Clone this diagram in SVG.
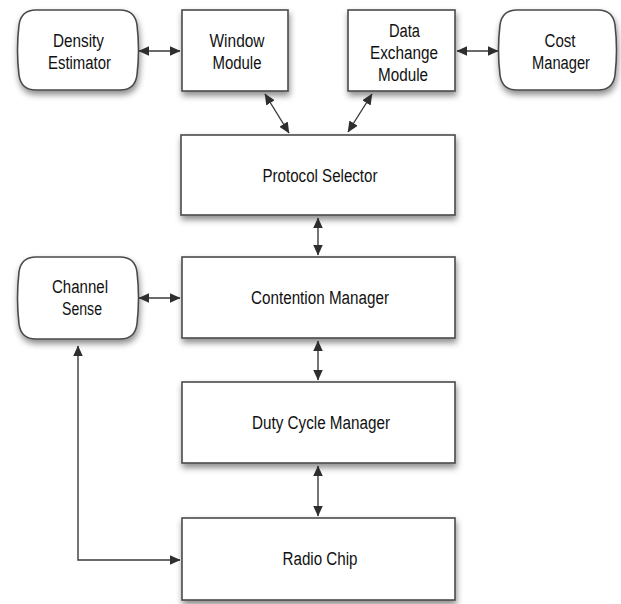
<svg xmlns="http://www.w3.org/2000/svg" width="621" height="604" viewBox="0 0 621 604">
<defs>
<filter id="sh" x="-20%" y="-20%" width="140%" height="150%">
<feDropShadow dx="1" dy="4" stdDeviation="3" flood-color="#000" flood-opacity="0.45"/>
</filter>
<marker id="ah" viewBox="0 0 10 10" refX="9.5" refY="5" markerWidth="11" markerHeight="11" markerUnits="userSpaceOnUse" orient="auto-start-reverse">
<path d="M0,0.5 L10,5 L0,9.5 Z" fill="#2e2e2e"/>
</marker>
</defs>
<style>
.box{fill:#fff;stroke:#4a4a4a;stroke-width:1.6;filter:url(#sh)}
.t{font-family:"Liberation Sans",Arial,sans-serif;font-size:18px;fill:#111;text-anchor:middle}
.c{fill:none;stroke:#3a3a3a;stroke-width:1.4;marker-start:url(#ah);marker-end:url(#ah)}
</style>
<rect width="621" height="604" fill="#fff"/>
<g id="density-estimator">
<path class="box" d="M36,10 H120 Q135,10 137,25 Q140,50 137,75 Q135,90 120,90 H36 Q21,90 19,75 Q16,50 19,25 Q21,10 36,10 Z"/>
<text class="t" x="78.5" y="47" textLength="51" lengthAdjust="spacingAndGlyphs">Density</text>
<text class="t" x="79.5" y="69" textLength="63" lengthAdjust="spacingAndGlyphs">Estimator</text>
</g>
<g id="window-module">
<rect class="box" x="182" y="10" width="106" height="81"/>
<text class="t" x="237" y="47" textLength="55" lengthAdjust="spacingAndGlyphs">Window</text>
<text class="t" x="237" y="69" textLength="49" lengthAdjust="spacingAndGlyphs">Module</text>
</g>
<g id="data-exchange-module">
<rect class="box" x="348" y="10" width="107" height="81"/>
<text class="t" x="404.5" y="37" textLength="31" lengthAdjust="spacingAndGlyphs">Data</text>
<text class="t" x="404" y="59" textLength="68" lengthAdjust="spacingAndGlyphs">Exchange</text>
<text class="t" x="403" y="81" textLength="50" lengthAdjust="spacingAndGlyphs">Module</text>
</g>
<g id="cost-manager">
<path class="box" d="M517,10 H598 Q613,10 615,25 Q618,50 615,75 Q613,90 598,90 H517 Q502,90 500,75 Q497,50 500,25 Q502,10 517,10 Z"/>
<text class="t" x="560" y="47" textLength="31" lengthAdjust="spacingAndGlyphs">Cost</text>
<text class="t" x="561" y="69" textLength="58" lengthAdjust="spacingAndGlyphs">Manager</text>
</g>
<g id="protocol-selector">
<rect class="box" x="181" y="135" width="274" height="80"/>
<text class="t" x="320" y="182" textLength="115" lengthAdjust="spacingAndGlyphs">Protocol Selector</text>
</g>
<g id="channel-sense">
<path class="box" d="M36,257 H120 Q135,257 137,272 Q140,298 137,324 Q135,339 120,339 H36 Q21,339 19,324 Q16,298 19,272 Q21,257 36,257 Z"/>
<text class="t" x="80" y="293" textLength="56" lengthAdjust="spacingAndGlyphs">Channel</text>
<text class="t" x="82" y="315" textLength="40" lengthAdjust="spacingAndGlyphs">Sense</text>
</g>
<g id="contention-manager">
<rect class="box" x="182" y="257" width="273" height="81"/>
<text class="t" x="320" y="304" textLength="138" lengthAdjust="spacingAndGlyphs">Contention Manager</text>
</g>
<g id="duty-cycle-manager">
<rect class="box" x="182" y="382" width="273" height="81"/>
<text class="t" x="321" y="429" textLength="138" lengthAdjust="spacingAndGlyphs">Duty Cycle Manager</text>
</g>
<g id="radio-chip">
<rect class="box" x="182" y="518" width="273" height="82"/>
<text class="t" x="320" y="565" textLength="75" lengthAdjust="spacingAndGlyphs">Radio Chip</text>
</g>
<g id="connectors">
<line class="c" x1="139" y1="51" x2="180" y2="51"/>
<line class="c" x1="457" y1="51" x2="498" y2="51"/>
<line class="c" x1="265" y1="94" x2="289" y2="133"/>
<line class="c" x1="372" y1="94" x2="348" y2="132"/>
<line class="c" x1="318" y1="218" x2="318" y2="255"/>
<line class="c" x1="139" y1="298" x2="180" y2="298"/>
<line class="c" x1="318" y1="341" x2="318" y2="380"/>
<line class="c" x1="318" y1="466" x2="318" y2="516"/>
<path class="c" d="M78,346 V560 H180"/>
</g>
</svg>
